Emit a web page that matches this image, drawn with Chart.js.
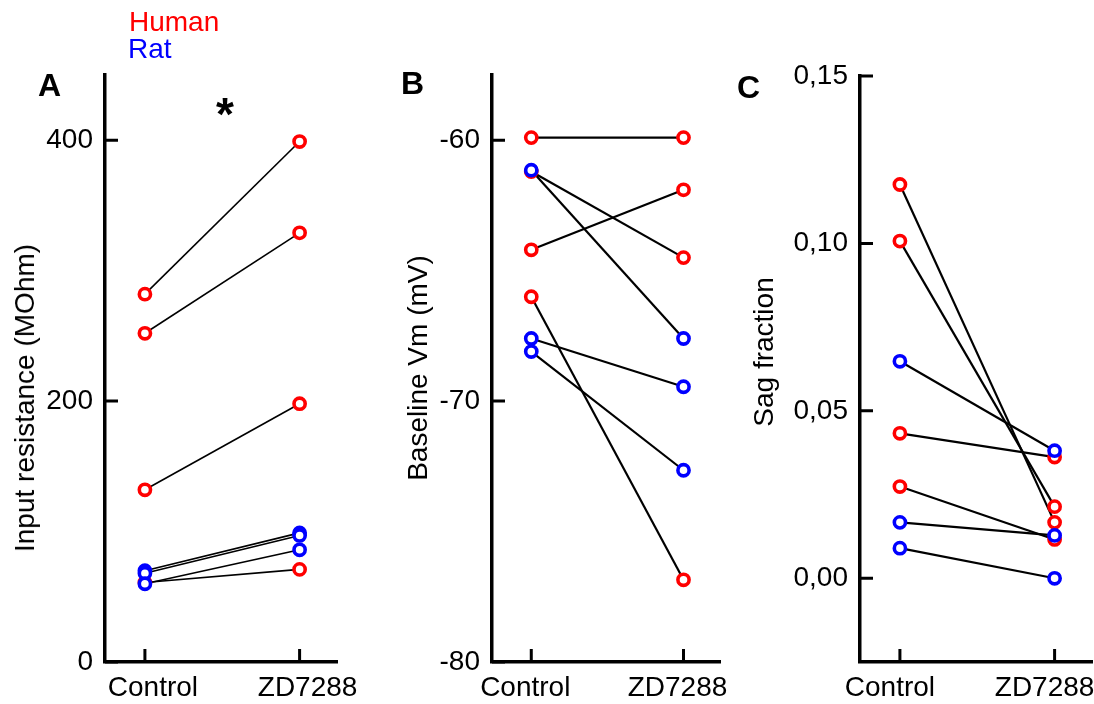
<!DOCTYPE html>
<html>
<head>
<meta charset="utf-8">
<script src="https://cdn.jsdelivr.net/npm/chart.js@4/dist/chart.umd.min.js"></script>
<style>
  body { margin: 0; background: #fff; font-family: "Liberation Sans", Arial, sans-serif; }
  #fig { position: relative; width: 1094px; height: 704px; overflow: hidden; }
  #fig canvas { position: absolute; top: 0; }
  .txt { position: absolute; white-space: nowrap; line-height: 1; color: #000; }
  .ytitle { position: absolute; white-space: nowrap; font-size: 28px; line-height: 28px;
            transform: translate(-50%, -50%) rotate(-90deg); }
  .letter { font-size: 32px; font-weight: bold; }
</style>
</head>
<body>
<div id="fig">
  <canvas id="chartA" width="360" height="704" style="left:0px"></canvas>
  <canvas id="chartB" width="344" height="704" style="left:386px"></canvas>
  <canvas id="chartC" width="380" height="704" style="left:740px"></canvas>

  <div class="txt" style="left:129px; top:8px; font-size:28px; color:#ff0000">Human</div>
  <div class="txt" style="left:128px; top:35px; font-size:28px; color:#0000ff">Rat</div>

  <div class="txt letter" style="left:38px; top:69px">A</div>
  <div class="txt letter" style="left:401px; top:67px">B</div>
  <div class="txt letter" style="left:737px; top:71px">C</div>
  <div class="txt" style="left:216px; top:91px; font-size:46px; font-weight:bold">*</div>

  <div class="ytitle" style="left:25px; top:398px">Input resistance (MOhm)</div>
  <div class="ytitle" style="left:418px; top:368px">Baseline Vm (mV)</div>
  <div class="ytitle" style="left:764px; top:352px">Sag fraction</div>
</div>

<script>
const categories = ["Control", "ZD7288"];

// A: input resistance (MOhm)
const resHumanCtrl = [282, 252, 132, 61];
const resHumanZd = [399, 329, 198, 71];
const resRatCtrl = [70, 68, 60];
const resRatZd = [99, 97, 86];
const resTicks = [0, 200, 400];
const resTickLabels = ["0", "200", "400"];

// B: baseline Vm (mV)
const vmHumanCtrl = [-59.9, -61.2, -64.2, -66.0];
const vmHumanZd = [-59.9, -64.5, -61.9, -76.85];
const vmRatCtrl = [-61.15, -67.6, -68.1];
const vmRatZd = [-67.6, -69.45, -72.65];
const vmTicks = [-80, -70, -60];
const vmTickLabels = ["-80", "-70", "-60"];

// C: sag fraction
const sagHumanCtrl = [0.1176, 0.1007, 0.0433, 0.0274];
const sagHumanZd = [0.0167, 0.0214, 0.0362, 0.0116];
const sagRatCtrl = [0.0648, 0.0167, 0.009];
const sagRatZd = [0.0381, 0.0128, 0.0];
const sagTicks = [0, 0.05, 0.1, 0.15];
const sagTickLabels = ["0,00", "0,05", "0,10", "0,15"];

const HUMAN = "#ff0000";
const RAT = "#0000ff";
const FONT = { family: "'Liberation Sans', Arial, sans-serif", size: 28 };

// ticks drawn on the inside of the axes
const innerTicks = {
  id: "innerTicks",
  afterDraw(chart) {
    const { ctx, chartArea, scales } = chart;
    const len = 13;
    ctx.save();
    ctx.strokeStyle = "#000";
    ctx.lineWidth = 3;
    ctx.beginPath();
    scales.y.ticks.forEach((t) => {
      const py = scales.y.getPixelForValue(t.value);
      ctx.moveTo(chartArea.left, py);
      ctx.lineTo(chartArea.left + len, py);
    });
    scales.x.ticks.forEach((t) => {
      const px = scales.x.getPixelForValue(t.value);
      ctx.moveTo(px, chartArea.bottom);
      ctx.lineTo(px, chartArea.bottom - len);
    });
    ctx.stroke();
    ctx.restore();
  },
};

const pairLines = (ctrl, zd, width) =>
  ctrl.map((c, i) => ({
    data: [{ x: 0, y: c }, { x: 1, y: zd[i] }],
    showLine: true,
    borderColor: "#000",
    borderWidth: width,
    pointRadius: 0,
    pointHoverRadius: 0,
    order: 2,
  }));

const markers = (ctrl, zd, color, order) => ({
  data: ctrl.map((v) => ({ x: 0, y: v })).concat(zd.map((v) => ({ x: 1, y: v }))),
  borderColor: color,
  backgroundColor: "#fff",
  pointRadius: 5.6,
  pointHoverRadius: 5.6,
  borderWidth: 3.6,
  order: order,
});

const makePanel = (id, p) => {
  new Chart(document.getElementById(id), {
    type: "scatter",
    data: {
      datasets: [
        ...pairLines(p.humanCtrl, p.humanZd, p.lineWidth),
        ...pairLines(p.ratCtrl, p.ratZd, p.lineWidth),
        markers(p.humanCtrl, p.humanZd, HUMAN, 1),
        markers(p.ratCtrl, p.ratZd, RAT, 0),
      ],
    },
    options: {
      responsive: false,
      animation: false,
      events: [],
      layout: { padding: { left: 0, top: p.top, right: p.right, bottom: 0 } },
      plugins: { legend: { display: false }, tooltip: { enabled: false } },
      scales: {
        x: {
          type: "linear",
          min: -0.258,
          max: 1.245,
          grid: { display: false, drawTicks: false },
          border: { display: true, width: 3.5, color: "#000" },
          afterBuildTicks: (s) => {
            s.ticks = categories.map((c, i) => ({ value: i }));
          },
          afterFit: (s) => {
            s.height = 42;
            s.paddingLeft = 0;
            s.paddingRight = 0;
          },
          ticks: {
            callback: (v) => categories[v],
            font: FONT,
            color: "#000",
            padding: 9,
            labelOffset: p.labelOffset,
            maxRotation: 0,
            autoSkip: false,
          },
        },
        y: {
          min: p.min,
          max: p.max,
          grid: { display: false, drawTicks: false },
          border: { display: true, width: 3.5, color: "#000" },
          afterBuildTicks: (s) => {
            s.ticks = p.ticks.map((v) => ({ value: v }));
          },
          afterFit: (s) => {
            s.width = p.yWidth;
            s.paddingTop = 0;
            s.paddingBottom = 0;
          },
          ticks: {
            callback: (v, i) => p.tickLabels[i],
            font: FONT,
            color: "#000",
            padding: 12,
          },
        },
      },
    },
    plugins: [innerTicks],
  });
};

makePanel("chartA", {
  humanCtrl: resHumanCtrl, humanZd: resHumanZd, ratCtrl: resRatCtrl, ratZd: resRatZd,
  min: 0, max: 450, ticks: resTicks, tickLabels: resTickLabels,
  top: 75, right: 22.5, yWidth: 105, labelOffset: 8, lineWidth: 1.6,
});

makePanel("chartB", {
  humanCtrl: vmHumanCtrl, humanZd: vmHumanZd, ratCtrl: vmRatCtrl, ratZd: vmRatZd,
  min: -80, max: -57.5, ticks: vmTicks, tickLabels: vmTickLabels,
  top: 75, right: 5.5, yWidth: 106, labelOffset: -6, lineWidth: 2.2,
});

makePanel("chartC", {
  humanCtrl: sagHumanCtrl, humanZd: sagHumanZd, ratCtrl: sagRatCtrl, ratZd: sagRatZd,
  min: -0.025, max: 0.15, ticks: sagTicks, tickLabels: sagTickLabels,
  top: 76, right: 27.5, yWidth: 120, labelOffset: -10, lineWidth: 2.2,
});
</script>
</body>
</html>
